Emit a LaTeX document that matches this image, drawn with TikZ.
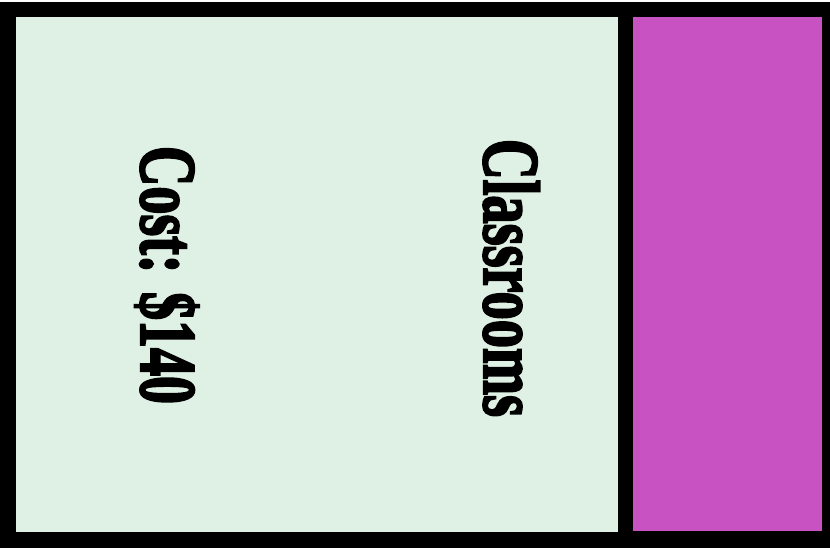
\documentclass[tikz,border=0pt]{standalone}
\usepackage{fontspec}
\setmainfont{Liberation Serif}
\newfontfamily\labelfont{Liberation Serif Bold}[FakeBold=3]
\usepackage{graphicx}
\definecolor{panelgreen}{HTML}{DFF0E4}
\definecolor{panelmagenta}{HTML}{C952C2}
\tikzset{
  label text/.style={rotate=-90, anchor=base, inner sep=0pt, font=\labelfont\fontsize{80}{80}\selectfont}
}
\begin{document}
\begin{tikzpicture}[x=1pt,y=-1pt]
\useasboundingbox (0,0) rectangle (830,549);
\fill[white] (0,0) rectangle (830,549);
\fill[black] (0,1.5) rectangle (830,547.5);
\fill[panelgreen] (16,17) rectangle (618,532);
\fill[panelmagenta] (633,17) rectangle (822,531);
\node[label text] (cost) at (141,275) {\resizebox{258pt}{\height}{Cost: \$140}};
\node[label text] (classrooms) at (484,278) {\resizebox{278pt}{\height}{Classrooms}};
\end{tikzpicture}
\end{document}
